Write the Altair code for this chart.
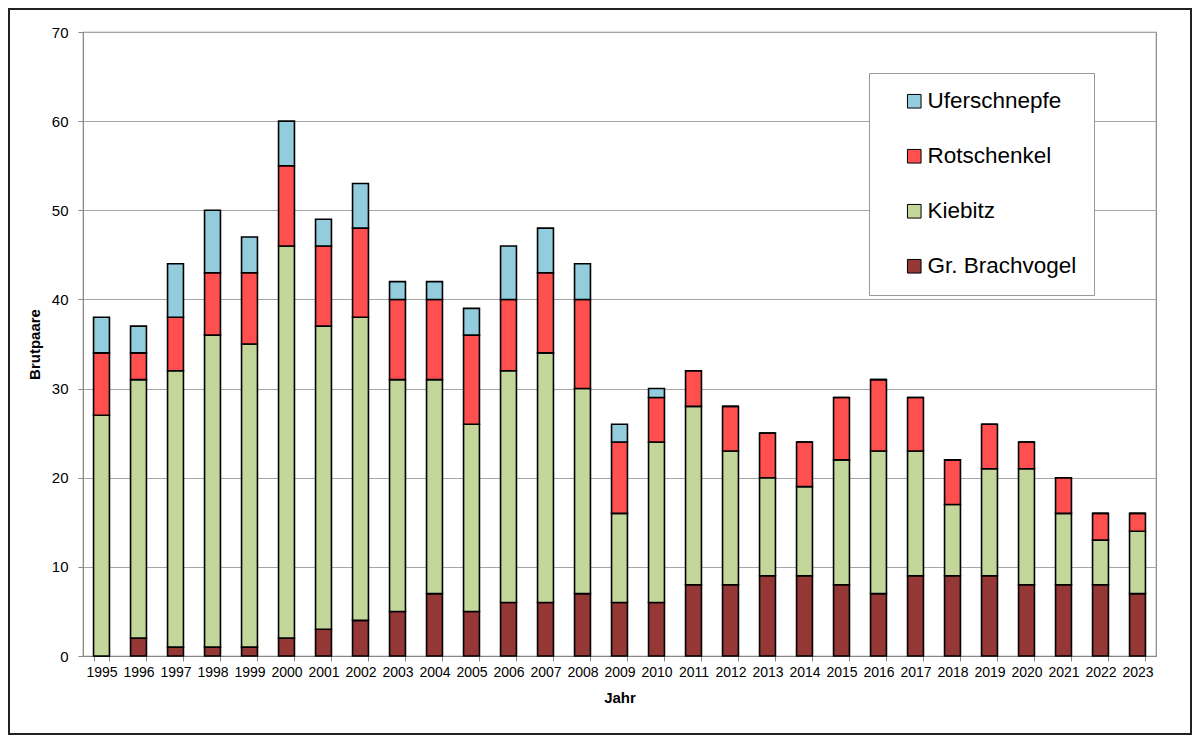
import altair as alt
import pandas as pd

years = [str(y) for y in range(1995, 2024)]
brachvogel = [0, 2, 1, 1, 1, 2, 3, 4, 5, 7, 5, 6, 6, 7, 6, 6, 8, 8, 9, 9, 8, 7, 9, 9, 9, 8, 8, 8, 7]
kiebitz = [27, 29, 31, 35, 34, 44, 34, 34, 26, 24, 21, 26, 28, 23, 10, 18, 20, 15, 11, 10, 14, 16, 14, 8, 12, 13, 8, 5, 7]
rotschenkel = [7, 3, 6, 7, 8, 9, 9, 10, 9, 9, 10, 8, 9, 10, 8, 5, 4, 5, 5, 5, 7, 8, 6, 5, 5, 3, 4, 3, 2]
uferschnepfe = [4, 3, 6, 7, 4, 5, 3, 5, 2, 2, 3, 6, 5, 4, 2, 1, 0, 0, 0, 0, 0, 0, 0, 0, 0, 0, 0, 0, 0]

species = ["Uferschnepfe", "Rotschenkel", "Kiebitz", "Gr. Brachvogel"]
colors = ["#93CDDD", "#FF4F4F", "#C4D79B", "#953735"]
series = {"Gr. Brachvogel": brachvogel, "Kiebitz": kiebitz,
          "Rotschenkel": rotschenkel, "Uferschnepfe": uferschnepfe}
stack_rank = {"Gr. Brachvogel": 0, "Kiebitz": 1, "Rotschenkel": 2, "Uferschnepfe": 3}

rows = []
for name, vals in series.items():
    for y, v in zip(years, vals):
        rows.append({"Jahr": y, "Art": name, "Brutpaare": v, "rank": stack_rank[name]})
df = pd.DataFrame(rows)

W, H = 1073, 624
FONT = "Liberation Sans"

bars = alt.Chart(df).mark_bar(stroke="black", strokeWidth=1.6).encode(
    x=alt.X("Jahr:O", title="Jahr", sort=years,
            scale=alt.Scale(paddingInner=0.57, paddingOuter=0.285),
            axis=alt.Axis(labelAngle=0, labelFontSize=14, labelPadding=4, tickBand="extent",
                          tickSize=5, titleFontSize=15, titleFontWeight="bold", titlePadding=11,
                          domainColor="#888888", tickColor="#888888", labelColor="black",
                          titleColor="black")),
    y=alt.Y("Brutpaare:Q", title="Brutpaare", stack="zero",
            scale=alt.Scale(domain=[0, 70]),
            axis=alt.Axis(values=list(range(0, 71, 10)), labelFontSize=15, labelPadding=10,
                          tickSize=5, titleFontSize=15, titleFontWeight="bold", titlePadding=9,
                          gridColor="#A6A6A6", gridWidth=1.2, domainColor="#888888",
                          tickColor="#888888", labelColor="black", titleColor="black")),
    color=alt.Color("Art:N", scale=alt.Scale(domain=species, range=colors),
                    legend=alt.Legend(title=None, orient="none", legendX=786, legendY=41,
                                      labelFontSize=22.5, symbolType="square", symbolSize=185,
                                      symbolStrokeColor="black", symbolStrokeWidth=1,
                                      rowPadding=32, padding=17, symbolOffset=17, labelOffset=2,
                                      strokeColor="#999999", fillColor="white",
                                      labelColor="black")),
    order=alt.Order("rank:Q", sort="ascending"),
)

frame = alt.Chart(alt.Data(values=[{}])).mark_rect(
    fill=None, stroke="#222222", strokeWidth=2
).encode(
    x=alt.value(-74), x2=alt.value(W + 35),
    y=alt.value(-23), y2=alt.value(H + 78),
)

chart = alt.layer(bars, frame).properties(
    width=W, height=H,
    padding={"left": 75, "top": 24, "right": 36, "bottom": 79},
    autosize=alt.AutoSizeParams(type="none"),
).configure(font=FONT).configure_view(stroke="#888888", strokeWidth=1.2)

chart.save("out.html", embed_options={"renderer": "svg", "actions": False})
